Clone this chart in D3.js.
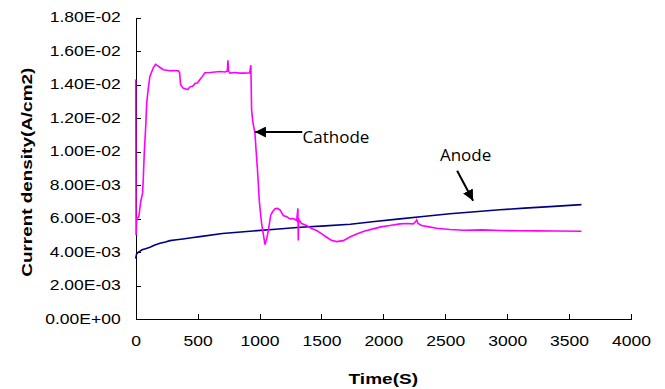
<!DOCTYPE html>
<html lang="en">
<head>
  <meta charset="utf-8">
  <script src="https://d3js.org/d3.v7.min.js"></script>
  <style>
    html, body {
      margin: 0;
      padding: 0;
      background: white;
    }

    .axis {
      font: 14px "Liberation Sans", Arial, sans-serif;
    }

    .axis path,
    .axis line {
      fill: none;
      stroke: #000;
      shape-rendering: crispEdges;
    }

    .title {
      font: bold 15px "Liberation Sans", Arial, sans-serif;
    }

    .note {
      font: 17px "Open Sans", sans-serif;
    }
  </style>
</head>
<body>
<div id="chart"></div>
<script>
  // data (time in s, current density in A/cm2)
  var cathodeTime = [0, 3, 8, 25, 40, 55, 61, 69, 81, 89, 102, 115, 142, 160, 182, 200, 223, 250, 277, 310, 344, 355, 362, 380, 398, 420, 438, 460, 479, 500, 519, 540, 559, 600, 640, 680, 721, 740, 745, 750, 761, 800, 840, 882, 920, 930, 936, 945, 963, 972, 982, 990, 998, 1008, 1017, 1030, 1044, 1058, 1071, 1090, 1105, 1125, 1145, 1165, 1192, 1220, 1246, 1275, 1300, 1310, 1313, 1316, 1320, 1340, 1380, 1420, 1461, 1500, 1542, 1580, 1623, 1676, 1730, 1784, 1850, 1918, 1980, 2053, 2134, 2190, 2241, 2260, 2269, 2280, 2309, 2370, 2430, 2537, 2650, 2800, 2950, 3100, 3250, 3400, 3600];
  var cathodeValue = [0.0143, 0.0050, 0.0060, 0.0061, 0.0070, 0.0075, 0.0083, 0.0099, 0.0115, 0.0129, 0.0138, 0.0145, 0.0150, 0.0152, 0.0151, 0.0150, 0.01488, 0.01485, 0.01482, 0.01484, 0.01482, 0.0147, 0.0140, 0.0138, 0.01374, 0.0137, 0.01386, 0.0139, 0.01406, 0.0141, 0.0143, 0.0145, 0.0147, 0.01472, 0.01475, 0.01478, 0.01475, 0.0148, 0.01545, 0.0148, 0.01468, 0.01472, 0.01468, 0.01468, 0.0147, 0.01515, 0.0125, 0.0118, 0.0111, 0.0101, 0.00907, 0.0081, 0.00708, 0.0063, 0.0057, 0.0051, 0.00444, 0.0048, 0.00528, 0.00618, 0.0064, 0.00658, 0.0066, 0.00652, 0.00618, 0.0061, 0.00598, 0.0060, 0.00588, 0.0066, 0.00468, 0.0060, 0.0059, 0.0057, 0.00558, 0.0054, 0.00528, 0.0051, 0.00488, 0.0047, 0.00462, 0.00468, 0.0049, 0.00508, 0.00525, 0.00538, 0.0055, 0.00558, 0.00568, 0.0057, 0.00568, 0.0058, 0.00592, 0.0057, 0.00558, 0.0055, 0.00542, 0.00534, 0.0053, 0.00532, 0.00528, 0.00527, 0.00526, 0.00525, 0.00524];

  var anodeTime = [0, 2, 8, 19, 35, 51, 80, 115, 150, 196, 240, 277, 330, 382, 450, 519, 700, 923, 1130, 1329, 1530, 1733, 1930, 2134, 2340, 2537, 2740, 2941, 3140, 3345, 3600];
  var anodeValue = [0.0036, 0.0037, 0.0039, 0.00398, 0.00405, 0.00413, 0.0042, 0.00428, 0.0044, 0.00452, 0.0046, 0.00468, 0.00473, 0.00478, 0.00485, 0.00492, 0.0051, 0.00524, 0.00536, 0.00548, 0.00556, 0.00566, 0.00582, 0.00598, 0.00613, 0.00628, 0.0064, 0.00652, 0.00662, 0.00671, 0.00683];

  var xTicks = [0, 500, 1000, 1500, 2000, 2500, 3000, 3500, 4000];
  var yTicks = [0, 0.002, 0.004, 0.006, 0.008, 0.010, 0.012, 0.014, 0.016, 0.018];

  // annotations: label position and arrow (tail -> head), in data units
  var noteText = ["Cathode", "Anode"];
  var noteAt = [[1348, 0.01048], [2457, 0.00943]];
  var arrowFrom = [[1345, 0.01116], [2596, 0.00885]];
  var arrowTo = [[963, 0.01116], [2725, 0.00706]];

  var margin = {top: 17.5, right: 34, bottom: 70, left: 135.7},
          width = 665 - margin.left - margin.right,
          height = 389 - margin.top - margin.bottom;

  var svg = d3.select("#chart").append("svg")
          .attr("width", 665)
          .attr("height", 389)
          .style("display", "block")
          .style("background-color", "white");

  var defs = svg.append("defs");
  defs.append("marker")
          .attr("id", "head")
          .attr("viewBox", "0 0 10 10")
          .attr("refX", 10)
          .attr("refY", 5)
          .attr("markerUnits", "userSpaceOnUse")
          .attr("markerWidth", 11)
          .attr("markerHeight", 11)
          .attr("orient", "auto")
          .append("path")
          .attr("d", "M0,0L10,5L0,10Z")
          .attr("fill", "#000");

  var g = svg.append("g")
          .attr("transform", "translate(" + margin.left + "," + margin.top + ")");

  var x = d3.scaleLinear().domain([0, 4000]).range([0, width]);
  var y = d3.scaleLinear().domain([0, 0.018]).range([height, 0]);

  // Excel style scientific labels, e.g. 1.80E-02
  function sci(v) {
    if (v === 0) return "0.00E+00";
    var e = Math.floor(Math.log10(Math.abs(v)) + 1e-9);
    var m = v / Math.pow(10, e);
    var s = e < 0 ? "-" : "+";
    return m.toFixed(2) + "E" + s + String(Math.abs(e)).padStart(2, "0");
  }

  function stretch(sel, k) {
    sel.each(function() {
      var w = this.getComputedTextLength();
      d3.select(this).attr("textLength", w * k).attr("lengthAdjust", "spacingAndGlyphs");
    });
  }

  var xAxis = d3.axisBottom(x).tickValues(xTicks).tickSize(-5).tickPadding(17).tickFormat(d3.format("d"));
  var yAxis = d3.axisLeft(y).tickValues(yTicks).tickSize(-5).tickPadding(15).tickFormat(sci);

  var gX = g.append("g")
          .attr("class", "axis axis--x")
          .attr("transform", "translate(0," + height + ")")
          .call(xAxis);
  gX.selectAll("text").attr("fill", "#000");
  stretch(gX.selectAll("text"), 1.25);

  var gY = g.append("g")
          .attr("class", "axis axis--y")
          .call(yAxis);
  gY.selectAll("text").attr("fill", "#000");
  stretch(gY.selectAll("text"), 1.25);

  var line = d3.line()
          .x(function(d) { return x(d[0]); })
          .y(function(d) { return y(d[1]); });

  g.append("path")
          .datum(anodeTime.map(function(t, i) { return [t, anodeValue[i]]; }))
          .attr("fill", "none")
          .attr("stroke", "#000080")
          .attr("stroke-width", 1.6)
          .attr("d", line);

  g.append("path")
          .datum(cathodeTime.map(function(t, i) { return [t, cathodeValue[i]]; }))
          .attr("fill", "none")
          .attr("stroke", "#ff00ff")
          .attr("stroke-width", 1.6)
          .attr("d", line);

  // annotations
  noteText.forEach(function(txt, i) {
    g.append("line")
            .attr("x1", x(arrowFrom[i][0]))
            .attr("y1", y(arrowFrom[i][1]))
            .attr("x2", x(arrowTo[i][0]))
            .attr("y2", y(arrowTo[i][1]))
            .attr("stroke", "#000")
            .attr("stroke-width", 2)
            .attr("marker-end", "url(#head)");
    g.append("text")
            .attr("class", "note")
            .attr("x", x(noteAt[i][0]))
            .attr("y", y(noteAt[i][1]))
            .text(txt);
  });

  // axis titles
  var xt = svg.append("text")
          .attr("class", "title")
          .attr("text-anchor", "middle")
          .attr("x", margin.left + width / 2)
          .attr("y", 384)
          .text("Time(S)");
  stretch(xt, 1.27);

  var yt = svg.append("text")
          .attr("class", "title")
          .attr("text-anchor", "middle")
          .attr("transform", "translate(32," + (margin.top + height / 2 + 4) + ") rotate(-90)")
          .text("Current density(A/cm2)");
  stretch(yt, 1.26);
</script>
</body>
</html>
